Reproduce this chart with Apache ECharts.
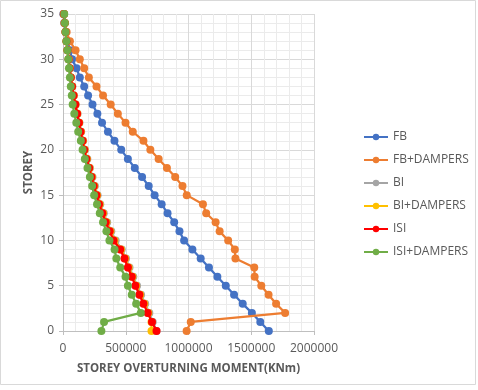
<!DOCTYPE html>
<html>
<head>
<meta charset="utf-8">
<script src="https://cdn.jsdelivr.net/npm/echarts@6/dist/echarts.min.js"></script>
<style>
html,body{margin:0;padding:0;background:#fff;}
#c{width:478px;height:390px;}
</style>
</head>
<body>
<div id="c"></div>
<script>
const storeys = [0,1,2,3,4,5,6,7,8,9,10,11,12,13,14,15,16,17,18,19,20,21,22,23,24,25,26,27,28,29,30,31,32,33,34,35];
const seriesNames = ['FB','FB+DAMPERS','BI','BI+DAMPERS','ISI','ISI+DAMPERS'];
const fb = [1640000,1572000,1505000,1432000,1363000,1297000,1230000,1163000,1097000,1031000,965000,928000,886000,833000,786000,730000,683000,630000,572000,517000,464000,410000,358000,311000,274000,235000,200000,169000,134000,108000,72000,55000,38000,22000,10000,3000];
const fbDampers = [985000,1018000,1770000,1698000,1638000,1580000,1527000,1524000,1374000,1369000,1316000,1248000,1216000,1141000,1115000,986000,952000,894000,828000,762000,696000,641000,556000,498000,437000,380000,319000,267000,206000,169000,134000,100000,55000,29000,12000,5000];
const bi = [745000,715000,688000,655000,622000,590000,560000,530000,502000,468000,420000,385000,352000,325000,297000,276000,254000,235000,215000,194000,175000,161000,145000,131000,116000,101000,87000,75000,64000,55000,46000,37000,29000,21000,14000,8000];
const biDampers = [705000,705000,680000,648000,615000,583000,553000,523000,495000,462000,410000,378000,346000,319000,292000,271000,249000,230000,211000,190000,172000,158000,142000,129000,114000,99000,85000,73000,62000,53000,45000,36000,28000,20000,14000,8000];
const isi = [745000,709000,675000,641000,609000,577000,548000,517000,490000,456000,403000,372000,340000,314000,287000,267000,245000,227000,208000,187000,169000,156000,140000,127000,112000,98000,84000,72000,62000,53000,45000,36000,28000,20000,14000,8000];
const isiDampers = [306000,327000,620000,583000,548000,517000,498000,456000,425000,411000,370000,346000,319000,293000,271000,248000,232000,214000,195000,174000,156000,142000,121000,106000,90000,77000,70000,62000,55000,48000,42000,35000,27000,20000,15000,10000];
const xTicks = [0,500000,1000000,1500000,2000000];
const yTicks = [0,5,10,15,20,25,30,35];
const yTitle = 'STOREY';
const xTitle = 'STOREY OVERTURNING MOMENT(KNm)';

const colors = ['#4472C4','#ED7D31','#A5A5A5','#FFC000','#FF0000','#70AD47'];
const allData = [fb, fbDampers, bi, biDampers, isi, isiDampers];
const FONT = 'Open Sans';

const chart = echarts.init(document.getElementById('c'), null, {renderer:'canvas'});
chart.setOption({
  animation:false,
  backgroundColor:'#ffffff',
  color: colors,
  graphic:[
    {type:'rect',shape:{x:0.5,y:0.5,width:475,height:384},style:{fill:'none',stroke:'#d9d9d9',lineWidth:1},z:-1},
    {type:'text',x:29,y:172.5,rotation:Math.PI/2,style:{text:yTitle,align:'center',verticalAlign:'middle',fill:'#595959',font:'bold 11.5px "Open Sans"'}}
  ],
  grid:{left:63,right:164,top:14,bottom:59,containLabel:false},
  legend:{
    orient:'vertical', left:358, top:126, itemWidth:24, itemHeight:8, itemGap:11,
    data: seriesNames,
    textStyle:{fontFamily:FONT,fontSize:12,color:'#595959'}
  },
  xAxis:{
    type:'value', min:xTicks[0], max:xTicks[xTicks.length-1], interval:500000,
    name:xTitle, nameLocation:'middle', nameGap:32,
    nameTextStyle:{fontFamily:FONT,fontSize:11.5,fontWeight:'bold',color:'#595959'},
    axisLine:{show:true,lineStyle:{color:'#bfbfbf',width:1}},
    axisTick:{show:true,length:4,lineStyle:{color:'#bfbfbf'}},
    minorTick:{show:false,splitNumber:5},
    axisLabel:{fontFamily:FONT,fontSize:12,color:'#595959',margin:12,formatter:v=>String(v)},
    splitLine:{show:true,lineStyle:{color:'#d9d9d9',width:1}},
    minorSplitLine:{show:true,lineStyle:{color:'#ebebeb',width:1}}
  },
  yAxis:{
    type:'value', min:yTicks[0], max:yTicks[yTicks.length-1], interval:5,
    axisLine:{show:true,lineStyle:{color:'#bfbfbf',width:1}},
    axisTick:{show:true,length:4,lineStyle:{color:'#bfbfbf'}},
    minorTick:{show:false,splitNumber:5},
    axisLabel:{fontFamily:FONT,fontSize:12,color:'#595959',margin:9},
    splitLine:{show:true,lineStyle:{color:'#d9d9d9',width:1}},
    minorSplitLine:{show:true,lineStyle:{color:'#ebebeb',width:1}}
  },
  series: seriesNames.map((n,i)=>({
    name:n, type:'line',
    data: storeys.map((s,k)=>[allData[i][k], s]),
    symbol:'circle', symbolSize:8,
    lineStyle:{width:2.25,color:colors[i]},
    itemStyle:{color:colors[i]},
    z: 2+i
  }))
});
</script>
</body>
</html>
